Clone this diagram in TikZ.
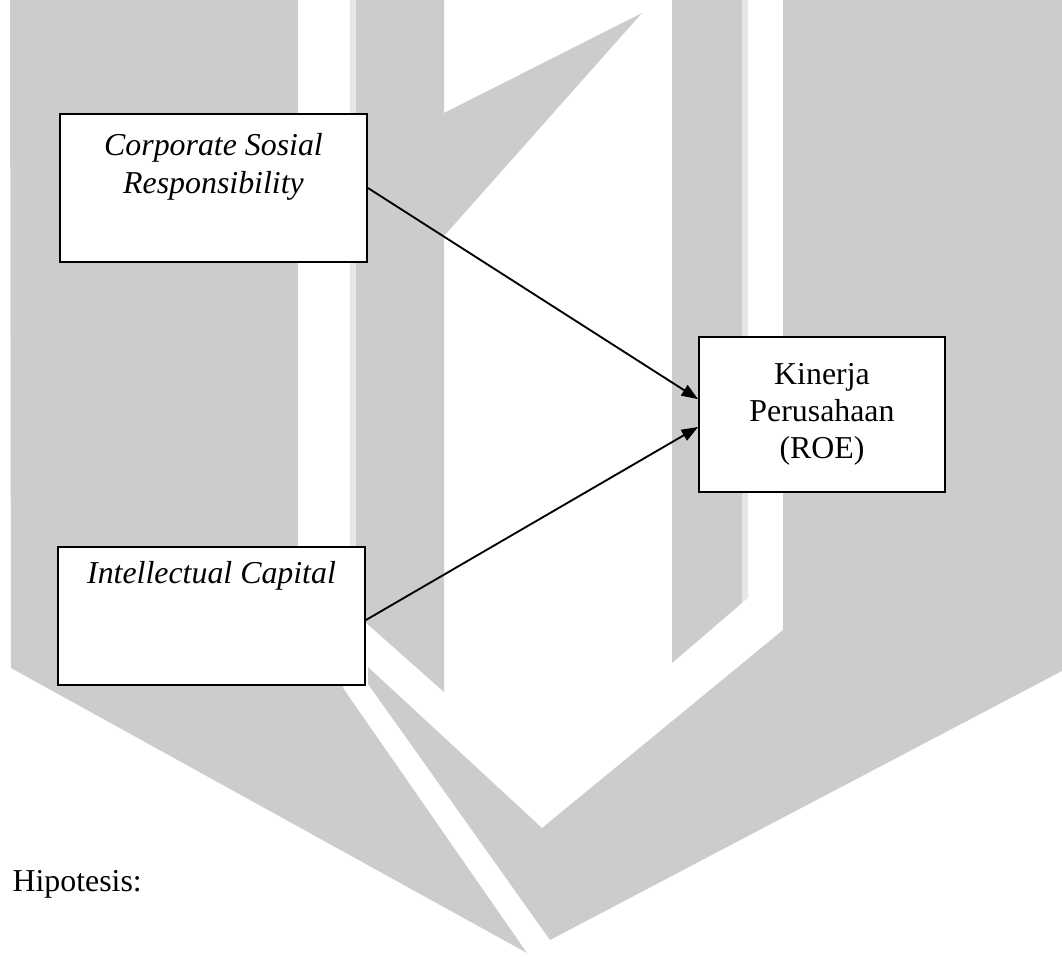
\documentclass[tikz,border=0pt]{standalone}
\usepackage{fontspec}
\setmainfont{Liberation Serif}
\usetikzlibrary{arrows.meta}
\definecolor{wmgray}{HTML}{CCCCCC}
\definecolor{wmlight}{HTML}{E6E6E6}

\begin{document}
\begin{tikzpicture}[x=0.3766pt, y=-0.3766pt,
    varbox/.style={draw, line width=0.75pt, fill=white, align=center, inner sep=0pt,
        font=\fontsize{12pt}{14pt}\selectfont},
    arr/.style={line width=0.7pt, -{Triangle[length=6.2pt, width=4.6pt]}}]
    \useasboundingbox (0, 0) rectangle (1062, 956);
    % watermark behind the diagram
    \fill[wmgray] (10, 0) -- (298, 0) -- (298, 620) -- (350, 660) -- (343, 688) -- (527, 953) -- (11, 668) -- cycle;
    \fill[wmlight] (350, 0) rectangle (356, 560);
    \fill[wmgray] (356, 0) -- (444, 0) -- (444, 113) -- (642, 13) -- (444, 236) -- (444, 692) -- (356, 614) -- cycle;
    \fill[wmgray] (672, 0) -- (742, 0) -- (742, 603) -- (672, 663) -- cycle;
    \fill[wmlight] (742, 0) -- (748, 0) -- (748, 598) -- (742, 603) -- cycle;
    \fill[wmgray] (783, 0) -- (1062, 0) -- (1062, 671) -- (550, 940) -- (368, 684) -- (368, 667) -- (542, 828) -- (783, 630) -- cycle;
    % variables
    \node[varbox, font=\fontsize{12pt}{14.3pt}\selectfont\itshape, minimum width=115.6pt, minimum height=55.7pt] (csr) at (213.5, 188)
        {Corporate Sosial\\Responsibility\\\strut};
    \node[varbox, font=\fontsize{12pt}{14.3pt}\selectfont\itshape, minimum width=115.6pt, minimum height=52pt] (ic) at (211.5, 616)
        {Intellectual Capital\\\strut\\\strut};
    \node[varbox, minimum width=92.6pt, minimum height=58.4pt] (kin) at (822, 414.5)
        {Kinerja\\Perusahaan\\(ROE)};
    \draw[arr] (csr.east) -- ([yshift=5.8pt]kin.west);
    \draw[arr] ([yshift=-1.5pt]ic.east) -- ([yshift=-4.7pt]kin.west);
    \node[anchor=base west, inner sep=0pt, font=\fontsize{12pt}{14pt}\selectfont] (hyp) at (12, 891) {Hipotesis:};
\end{tikzpicture}
\end{document}
